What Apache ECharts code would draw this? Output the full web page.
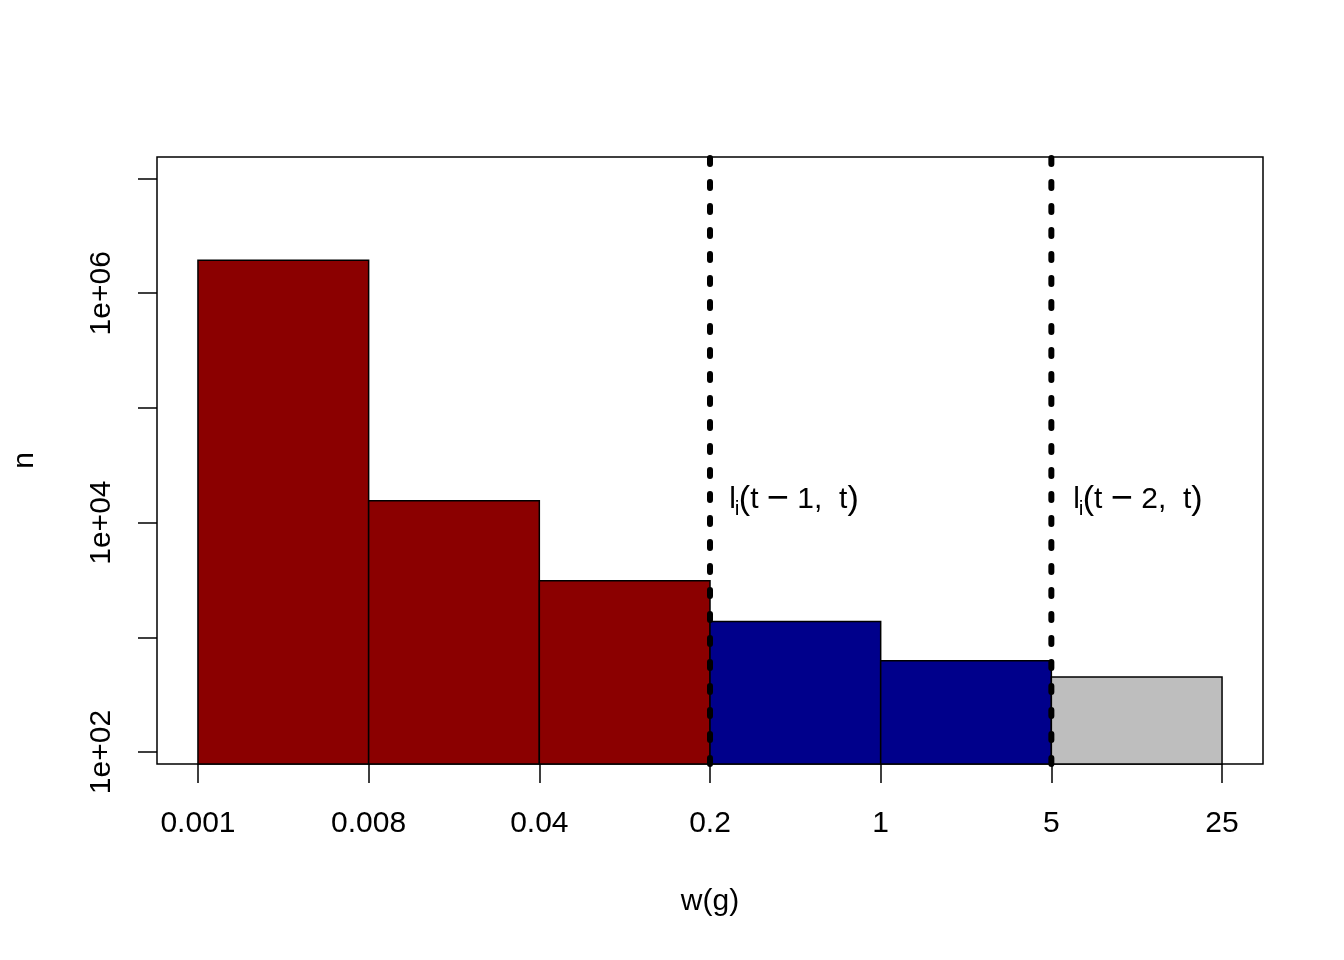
<!DOCTYPE html>
<html>
<head>
<meta charset="utf-8">
<script src="https://cdn.jsdelivr.net/npm/echarts@6/dist/echarts.min.js"></script>
<style>
html,body{margin:0;padding:0;background:#fff;}
#chart{width:1344px;height:960px;}
</style>
</head>
<body>
<div id="chart"></div>
<script>
// ---- data ----
const xTickLabels = ['0.001', '0.008', '0.04', '0.2', '1', '5', '25'];
const binCounts = [1940000, 15500, 3110, 1377, 625, 451];
const binGroups = ['t', 't', 't', 't-1', 't-1', 't-2'];
const yLabelValues = [1e2, 1e4, 1e6];
const yTickLabels = ['1e+02', '1e+04', '1e+06'];
const yTickValues = [1e2, 1e3, 1e4, 1e5, 1e6, 1e7];
const cutBoundaries = [3, 5]; // index of bin edge (0.2 and 5)
const annotationLags = ['1', '2'];

// ---- style ----
const FONT = 'Liberation Sans, Arial, Helvetica, sans-serif';
const groupColors = { 't': '#8B0000', 't-1': '#00008B', 't-2': '#BEBEBE' };
const yMin = Math.pow(10, 1.8954);
const yMax = Math.pow(10, 7.188);
const annY = Math.pow(10, 4.2);
const annX = [3.125, 5.14];

const chart = echarts.init(document.getElementById('chart'), null, { renderer: 'canvas', width: 1344, height: 960 });

const barData = binCounts.map((v, i) => [i, v]);

const option = {
  animation: false,
  backgroundColor: '#fff',
  grid: {
    left: 157, top: 157, right: 81, bottom: 196,
    show: true, borderColor: '#000', borderWidth: 1.5, backgroundColor: 'transparent'
  },
  xAxis: {
    type: 'value', min: -0.24, max: 6.24,
    axisLine: { show: false, onZero: false },
    splitLine: { show: false },
    axisTick: { show: true, length: 19, lineStyle: { color: '#000', width: 1.5 }, customValues: [0, 1, 2, 3, 4, 5, 6] },
    axisLabel: {
      customValues: [0, 1, 2, 3, 4, 5, 6],
      formatter: v => xTickLabels[Math.round(v)],
      margin: 45, fontSize: 30, lineHeight: 30, color: '#000', fontFamily: FONT
    },
    name: 'w(g)', nameLocation: 'middle', nameGap: 123,
    nameTextStyle: { fontSize: 30, lineHeight: 30, color: '#000', fontFamily: FONT }
  },
  yAxis: {
    type: 'log', logBase: 10, min: yMin, max: yMax,
    axisLine: { show: false, onZero: false },
    splitLine: { show: false },
    axisTick: { show: true, length: 19, lineStyle: { color: '#000', width: 1.5 }, customValues: yTickValues },
    axisLabel: {
      customValues: yLabelValues,
      formatter: v => {
        const idx = yLabelValues.findIndex(x => Math.abs(Math.log10(x) - Math.log10(v)) < 1e-6);
        return idx >= 0 ? yTickLabels[idx] : '';
      },
      rotate: 90, margin: 40, fontSize: 30, lineHeight: 30, color: '#000', fontFamily: FONT
    },
    name: 'n', nameLocation: 'middle', nameGap: 117, nameRotate: 90,
    nameTextStyle: { fontSize: 30, lineHeight: 30, color: '#000', fontFamily: FONT }
  },
  series: [
    {
      type: 'custom',
      name: 'bins',
      data: barData,
      z: 2,
      renderItem: (params, api) => {
        const i = api.value(0);
        const v = api.value(1);
        const p0 = api.coord([i, v]);
        const p1 = api.coord([i + 1, yMin]);
        return {
          type: 'rect',
          shape: { x: p0[0], y: p0[1], width: p1[0] - p0[0], height: p1[1] - p0[1] },
          style: { fill: groupColors[binGroups[params.dataIndex]], stroke: '#000', lineWidth: 1.5 }
        };
      }
    },
    ...cutBoundaries.map((b, k) => ({
      type: 'line',
      name: 'cut' + k,
      data: [[b, yMin], [b, yMax]],
      symbol: 'none',
      z: 5,
      silent: true,
      lineStyle: { color: '#000', width: 6, type: [6, 18], cap: 'round' }
    })),
    {
      type: 'custom',
      name: 'annotations',
      data: annX.map((x, k) => [x, annY, k]),
      z: 6,
      silent: true,
      renderItem: (params, api) => {
        const p = api.coord([api.value(0), api.value(1)]);
        const k = api.value(2);
        return {
          type: 'group',
          children: [
            { type: 'text', x: p[0] - 2, y: p[1], style: { text: 'l', fontSize: 30, fontFamily: FONT, fill: '#000', align: 'left', verticalAlign: 'middle' } },
            { type: 'text', x: p[0] + 3.5, y: p[1] + 10, style: { text: 'i', fontSize: 21, fontFamily: FONT, fill: '#000', align: 'left', verticalAlign: 'middle' } },
            {
              type: 'text', x: p[0] + 7.5, y: p[1],
              style: {
                text: '{p|(}{n|t }{m|−}{n| ' + annotationLags[k] + ',  t}{p|)}',
                fontFamily: FONT, fill: '#000', align: 'left', verticalAlign: 'middle',
                rich: {
                  p: { fontSize: 34, fontFamily: FONT, fill: '#000' },
                  n: { fontSize: 30, fontFamily: FONT, fill: '#000' },
                  m: { fontSize: 38, fontFamily: FONT, fill: '#000' }
                }
              }
            }
          ]
        };
      }
    }
  ]
};

chart.setOption(option);
</script>
</body>
</html>
